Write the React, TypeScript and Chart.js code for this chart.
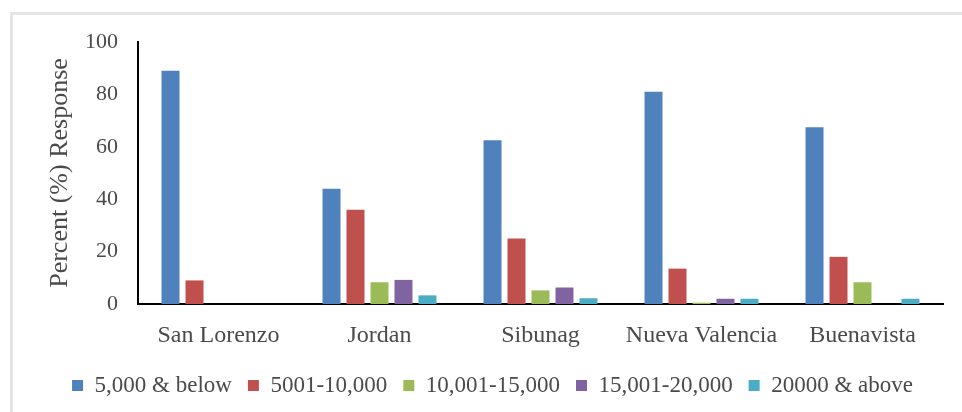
import React, { useEffect, useRef } from "react";
import { Chart, registerables } from "chart.js";

Chart.register(...registerables);

const categories = ["San Lorenzo", "Jordan", "Sibunag", "Nueva Valencia", "Buenavista"];
const seriesNames = ["5,000 & below", "5001-10,000", "10,001-15,000", "15,001-20,000", "20000 & above"];
const below5000 = [89, 44, 62.5, 81, 67.5];
const from5001to10000 = [9, 36, 25, 13.5, 18];
const from10001to15000 = [0, 8.3, 5.2, 0.5, 8.3];
const from15001to20000 = [0, 9.2, 6.3, 2, 0];
const above20000 = [0, 3.3, 2.2, 2, 2];
const yTicks = [0, 20, 40, 60, 80, 100];
const colors = ["#4F81BD", "#C0504D", "#9BBB59", "#8064A2", "#4BACC6"];

export default function App() {
  const ref = useRef<HTMLCanvasElement | null>(null);
  useEffect(() => {
    if (!ref.current) return;
    const values = [below5000, from5001to10000, from10001to15000, from15001to20000, above20000];
    const family = "'Liberation Serif', 'Times New Roman', serif";
    const chart = new Chart(ref.current, {
      type: "bar",
      data: {
        labels: categories,
        datasets: seriesNames.map((name, i) => ({
          label: name,
          data: values[i],
          backgroundColor: colors[i],
          borderWidth: 0,
          categoryPercentage: 0.745,
          barPercentage: 0.75,
        })),
      },
      options: {
        animation: false,
        responsive: true,
        maintainAspectRatio: false,
        layout: { padding: { left: 42, right: 19, top: 42, bottom: 5 } },
        plugins: {
          tooltip: { enabled: false },
          legend: {
            position: "bottom",
            labels: {
              font: { family, size: 23 },
              color: "#4a4a4a",
              boxWidth: 11,
              boxHeight: 11,
              padding: 16,
            },
          },
        },
        scales: {
          x: {
            grid: { display: false, drawTicks: false },
            border: { display: true, color: "#000", width: 2 },
            ticks: { font: { family, size: 24 }, color: "#4a4a4a", padding: 17, maxRotation: 0 },
            afterFit: (s: any) => { s.height = 54; },
          },
          y: {
            min: 0,
            max: 100,
            afterBuildTicks: (s: any) => { s.ticks = yTicks.map((v) => ({ value: v })); },
            grid: { display: false, drawTicks: false },
            border: { display: true, color: "#000", width: 2 },
            ticks: { font: { family, size: 22 }, color: "#4a4a4a", padding: 20 },
            title: {
              display: true,
              text: "Percent (%) Response",
              font: { family, size: 26 },
              color: "#4a4a4a",
              padding: { top: 3, bottom: 4 },
            },
            afterFit: (s: any) => { s.width = 96; },
          },
        },
      },
    });
    return () => chart.destroy();
  }, []);
  return (
    <div style={{ position: "absolute", left: 0, top: 0, width: 962, height: 412, background: "#fff" }}>
      <div style={{ position: "absolute", left: 10, top: 12, right: 0, height: 3, background: "#e4e4e4" }} />
      <div style={{ position: "absolute", left: 10, top: 12, width: 3, bottom: 0, background: "#e4e4e4" }} />
      <div style={{ position: "absolute", left: 0, top: 0, width: 962, height: 412 }}>
        <canvas ref={ref} />
      </div>
    </div>
  );
}
